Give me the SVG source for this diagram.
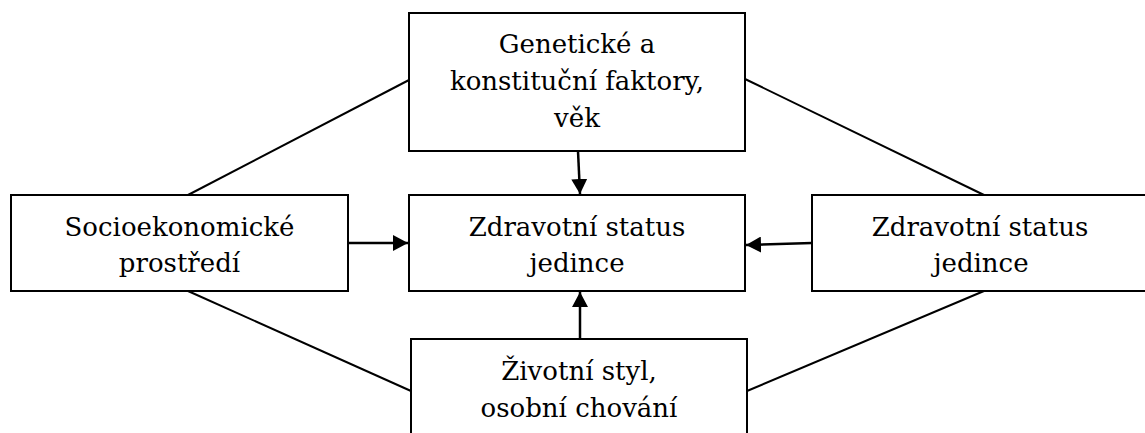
<svg xmlns="http://www.w3.org/2000/svg" width="1145" height="433" viewBox="0 0 1145 433">
<style>
.box{fill:#fff;stroke:#000;stroke-width:2}
.lbl{font-family:'DejaVu Serif',serif;font-size:26px;fill:#000;text-anchor:middle}
.ln{stroke:#000;stroke-width:2;fill:none}
.arr{stroke:#000;stroke-width:2.5;fill:none;marker-end:url(#ah)}
</style>
<defs>
<marker id="ah" viewBox="0 0 15 16" refX="15" refY="8" markerWidth="15" markerHeight="16" markerUnits="userSpaceOnUse" orient="auto">
<path d="M0,0 L15,8 L0,16 Z" fill="#000"/>
</marker>
</defs>
<g id="connectors">
<line class="ln" x1="409" y1="80" x2="188" y2="195"/>
<line class="ln" x1="745" y1="79" x2="984" y2="195"/>
<line class="ln" x1="188" y1="291" x2="411" y2="391"/>
<line class="ln" x1="984" y1="291" x2="747" y2="391"/>
<line class="arr" x1="578" y1="151" x2="580" y2="194"/>
<line class="arr" x1="348" y1="243" x2="408" y2="243"/>
<line class="arr" x1="812" y1="243" x2="746" y2="245"/>
<line class="arr" x1="580" y1="339" x2="580" y2="292"/>
</g>
<g id="genetic">
<rect class="box" x="409" y="13" width="336" height="138"/>
<text class="lbl" x="577" y="53">Genetické a</text>
<text class="lbl" x="577" y="90">konstituční faktory,</text>
<text class="lbl" x="577" y="127">věk</text>
</g>
<g id="socio">
<rect class="box" x="11" y="195" width="337" height="96"/>
<text class="lbl" x="179.5" y="235.5">Socioekonomické</text>
<text class="lbl" x="179.5" y="272">prostředí</text>
</g>
<g id="center">
<rect class="box" x="409" y="195" width="336" height="96"/>
<text class="lbl" x="577" y="235.5">Zdravotní status</text>
<text class="lbl" x="577" y="272">jedince</text>
</g>
<g id="right">
<rect class="box" x="812" y="195" width="340" height="96"/>
<text class="lbl" x="980" y="235.5">Zdravotní status</text>
<text class="lbl" x="981" y="272">jedince</text>
</g>
<g id="lifestyle">
<rect class="box" x="411" y="339" width="336" height="110"/>
<text class="lbl" x="579" y="380">Životní styl,</text>
<text class="lbl" x="579" y="417">osobní chování</text>
</g>
</svg>
